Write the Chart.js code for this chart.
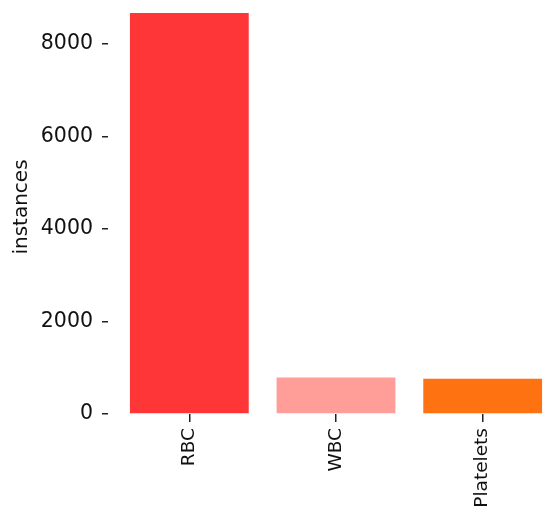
<!DOCTYPE html>
<html>
<head>
<meta charset="utf-8">
<script src="https://cdn.jsdelivr.net/npm/chart.js@4"></script>
<style>
  html, body { margin: 0; padding: 0; background: #fff; overflow: hidden; }
  #cellChart { display: block; }
</style>
</head>
<body>
<canvas id="cellChart" width="560" height="515"></canvas>
<script>
// ── 데이터 ──
var categories = ['RBC', 'WBC', 'Platelets'];
var instanceCounts = [8670, 790, 760];
var barColors = ['#fe3638', '#ff9e98', '#ff7212'];
var yTickValues = [0, 2000, 4000, 6000, 8000];
var yAxisTitle = 'instances';

var fontFamily = '"DejaVu Sans", sans-serif';

var ctx = document.getElementById('cellChart').getContext('2d');
var chartInstance = new Chart(ctx, {
  type: 'bar',
  data: {
    labels: categories,
    datasets: [{
      data: instanceCounts,
      backgroundColor: barColors,
      borderWidth: 0,
      barPercentage: 0.81,
      categoryPercentage: 1
    }]
  },
  options: {
    responsive: false,
    animation: false,
    layout: { padding: { top: 0, right: 4, bottom: 0, left: 0 } },
    plugins: {
      legend: { display: false },
      tooltip: { enabled: false }
    },
    scales: {
      x: {
        border: { display: false },
        grid: {
          offset: false,
          drawOnChartArea: false,
          drawTicks: true,
          tickLength: 8,
          lineWidth: 1.5,
          color: '#222'
        },
        ticks: {
          autoSkip: false,
          minRotation: 90,
          maxRotation: 90,
          padding: 6,
          color: '#111',
          font: { family: fontFamily, size: 18.5 }
        },
        afterFit: function(scale) {
          scale.height = 101;
          scale.paddingLeft = 0;
          scale.paddingRight = 0;
        }
      },
      y: {
        min: 0,
        max: 8950,
        border: { display: false },
        grid: {
          drawOnChartArea: false,
          drawTicks: true,
          tickLength: 14,
          lineWidth: 1.5,
          color: '#222',
          tickBorderDash: [6, 8],
          tickBorderDashOffset: 0
        },
        ticks: {
          padding: 9,
          color: '#111',
          font: { family: fontFamily, size: 20.5 },
          callback: function(v) { return String(v); }
        },
        afterBuildTicks: function(scale) {
          scale.ticks = yTickValues.map(function(v) { return { value: v }; });
        },
        title: {
          display: true,
          text: yAxisTitle,
          color: '#111',
          padding: { top: 10, bottom: 0 },
          font: { family: fontFamily, size: 20 }
        },
        afterFit: function(scale) {
          scale.width = 116;
          scale.paddingTop = 0;
          scale.paddingBottom = 0;
        }
      }
    }
  }
});
</script>
</body>
</html>
